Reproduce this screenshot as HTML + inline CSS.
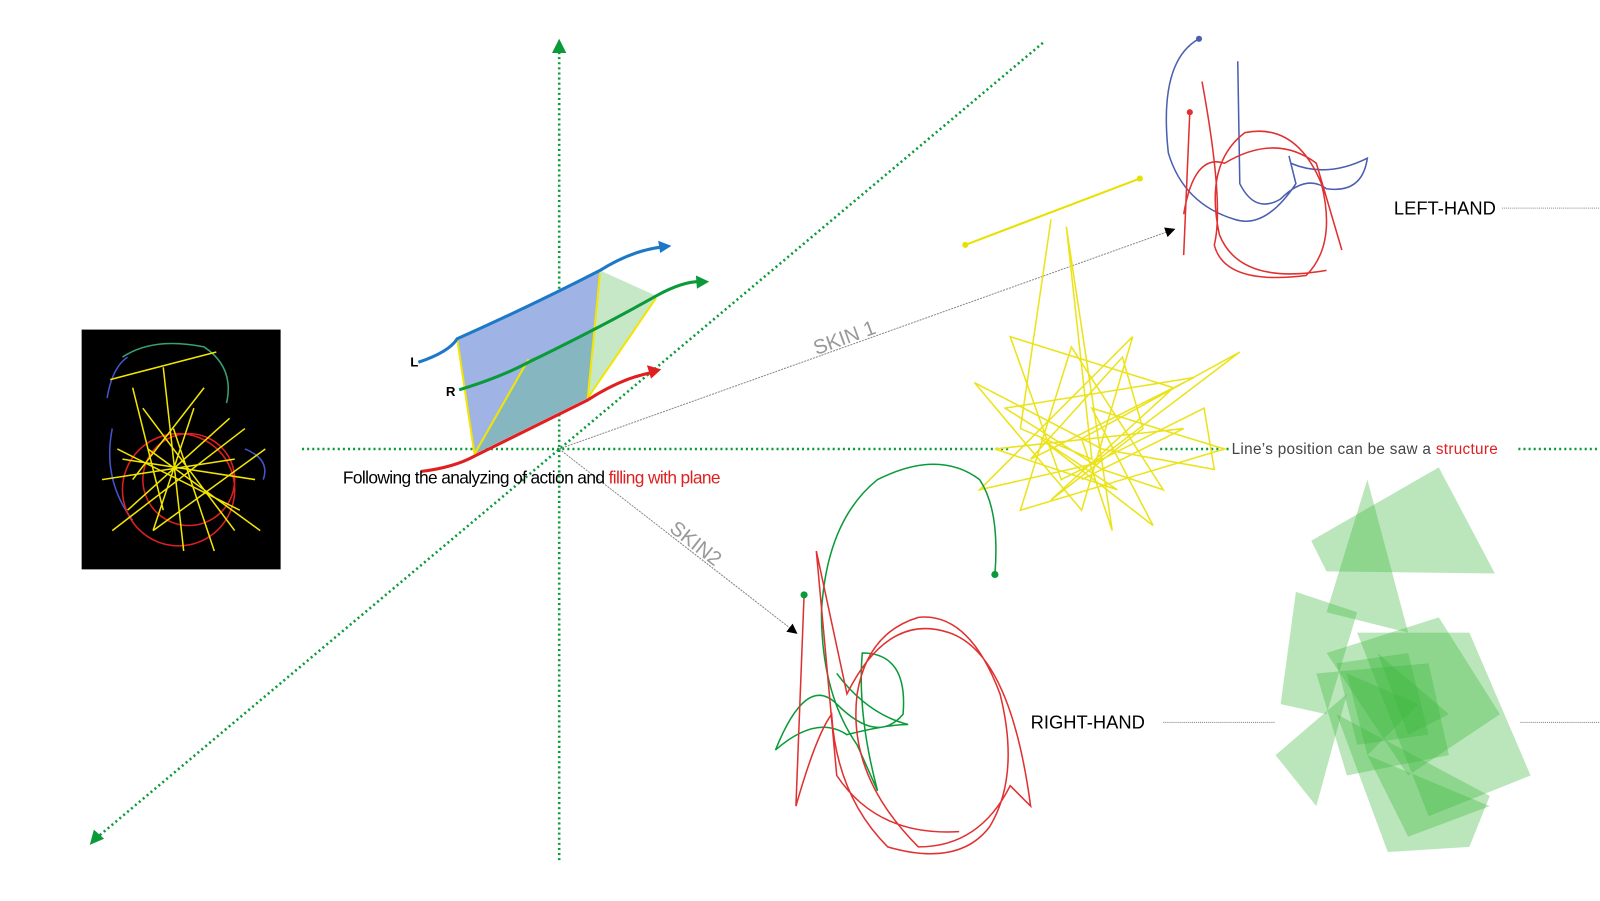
<!DOCTYPE html>
<html><head><meta charset="utf-8"><style>
html,body{margin:0;padding:0;background:#fff;}
svg{display:block;}
text{font-family:"Liberation Sans",sans-serif;}
</style></head><body>
<svg width="1600" height="901" viewBox="0 0 1568 883" preserveAspectRatio="none" xmlns="http://www.w3.org/2000/svg">
<defs>
<marker id="ka" markerWidth="10" markerHeight="10" refX="8" refY="5" orient="auto"><path d="M0,0 L10,5 L0,10 z" fill="#000"/></marker>
</defs>
<g stroke="#0a9a3a" stroke-width="2.5" stroke-dasharray="2,3" fill="none">
<line x1="548" y1="843" x2="548" y2="52"/>
<line x1="296" y1="440" x2="990" y2="440"/>
<line x1="1137" y1="440" x2="1205" y2="440"/>
<line x1="1488" y1="440" x2="1568" y2="440"/>
<line x1="1022" y1="42" x2="96" y2="820"/>
</g>
<path d="M541,52 L548,38 L555,52 z" fill="#0a9a3a"/>
<path d="M88,828 L92,813 L102,822 z" fill="#0a9a3a"/>
<line x1="548" y1="440" x2="1150" y2="225" stroke="#888" stroke-width="1" stroke-dasharray="2,1" marker-end="url(#ka)"/>
<line x1="548" y1="440" x2="780" y2="620" stroke="#888" stroke-width="1" stroke-dasharray="2,1" marker-end="url(#ka)"/>
<text x="800" y="348" fill="#999" font-size="20" transform="rotate(-20 800 348)">SKIN 1</text>
<text x="655" y="520" fill="#999" font-size="20" transform="rotate(38 655 520)">SKIN2</text>
<path d="M448,332 Q520,300 588,265 L576,390 L465,445 z" fill="#9fb4e4"/>
<path d="M518,352 Q580,330 643,290 L576,390 L465,445 z" fill="#7fb6b6" opacity="0.8"/>
<path d="M588,265 L643,290 L576,390 z" fill="#c7e8c7"/>
<g stroke="#f2e600" stroke-width="2" fill="none">
<line x1="448" y1="332" x2="465" y2="445"/><line x1="518" y1="352" x2="465" y2="445"/>
<line x1="588" y1="268" x2="576" y2="390"/><line x1="643" y1="292" x2="576" y2="390"/>
</g>
<path d="M410,355 Q440,345 448,332 Q520,300 588,265 Q620,245 650,242" stroke="#1e78c8" stroke-width="3" fill="none"/>
<path d="M645,236 L658,241 L647,248 z" fill="#1e78c8"/>
<path d="M450,382 Q490,370 518,355 Q590,320 643,290 Q670,275 688,276" stroke="#0a9a3a" stroke-width="3" fill="none"/>
<path d="M682,270 L695,276 L683,283 z" fill="#0a9a3a"/>
<path d="M413,462 Q445,458 465,447 L576,392 Q610,370 640,365" stroke="#e02020" stroke-width="3" fill="none"/>
<path d="M634,358 L648,362 L638,371 z" fill="#e02020"/>
<text x="402" y="359" font-size="13" font-weight="bold">L</text>
<text x="437" y="388" font-size="13" font-weight="bold">R</text>
<text x="336" y="474" font-size="17" letter-spacing="-0.6">Following the analyzing of action and <tspan fill="#e02020">filling with plane</tspan></text>
<rect x="80" y="323" width="195" height="235" fill="#000"/>
<g fill="none" stroke-width="1.5">
<path d="M120,350 Q150,330 200,340 Q230,360 222,395" stroke="#3aa070"/>
<path d="M105,390 Q110,360 125,350 M110,420 Q100,470 130,510" stroke="#4455cc"/>
<circle cx="175" cy="480" r="55" stroke="#e02020"/>
<circle cx="185" cy="470" r="45" stroke="#e02020"/>
<path d="M240,440 Q265,450 258,470" stroke="#4455cc"/>
<path d="M108,372 L212,345 M140,400 L230,520 M120,450 L250,470 M160,360 L180,540 M110,520 L240,420 M130,470 L200,380 M150,520 L260,440 M170,420 L210,540 M115,440 L235,500 M125,500 L225,410 M145,440 L255,520 M130,380 L160,500 M190,400 L150,520 M100,470 L230,450" stroke="#f2e600"/>
</g>
<line x1="946" y1="240" x2="1117" y2="175" stroke="#e8e000" stroke-width="2"/>
<circle cx="946" cy="240" r="3" fill="#e8e000"/><circle cx="1117" cy="175" r="3" fill="#e8e000"/>
<g stroke="#ebe31a" stroke-width="1.5" fill="none">
<path d="M1030,215 L1000,420 L1070,450 L1045,222 L1090,520 L1060,430 L1215,345 L1070,455 L960,480 L1110,330 L1060,500 L955,375 L1080,440 L1190,460 L1180,400 L1040,470 L990,330 L1150,380 L1030,490 L1120,420 L1100,350 L1010,450 L1170,370 L985,400 L1080,460 L1140,480 L1050,340 L1000,500 L1200,440 L1070,400 L1130,515 L1020,430 L1095,480 L975,440 L1160,420 L1060,470"/>
</g>
<g fill="none" stroke-width="1.5">
<path d="M1175,38 Q1135,60 1145,150 Q1160,200 1210,215 Q1240,225 1270,180 Q1260,140 1265,160 Q1300,175 1340,155 Q1335,190 1300,185 Q1280,170 1255,195 Q1230,210 1215,180 L1213,60" stroke="#4a5fb0"/>
<path d="M1166,110 L1160,250 M1178,80 Q1200,200 1190,240 Q1200,280 1280,270 Q1310,240 1295,180 Q1270,120 1220,130 Q1180,160 1195,230 Q1215,280 1300,265 M1160,210 Q1170,150 1200,160 Q1250,130 1290,160 L1315,245" stroke="#e03030"/>
</g>
<circle cx="1175" cy="38" r="3" fill="#4a5fb0"/><circle cx="1166" cy="110" r="3" fill="#e03030"/>
<text x="1366" y="210" font-size="18">LEFT-HAND</text>
<line x1="1472" y1="204" x2="1568" y2="204" stroke="#888" stroke-width="1" stroke-dasharray="1,1"/>
<g fill="none" stroke-width="1.5">
<path d="M975,563 Q980,500 960,470 Q920,440 860,470 Q810,510 805,600 Q805,680 840,730 L860,775 Q840,700 845,640 Q890,640 885,700 Q860,730 820,690 Q790,660 760,735 Q800,700 830,720 Q870,710 890,710 Q850,700 820,660" stroke="#0a9a3a"/>
<path d="M788,583 L780,790 Q800,720 815,700 Q820,780 870,830 Q940,850 970,810 Q1000,760 980,680 Q950,600 900,605 Q850,620 840,680 Q830,760 900,830 Q960,830 990,770 L1010,790 Q990,640 930,620 Q870,600 830,680 L800,540 L820,760 Q860,820 940,815" stroke="#e03030"/>
</g>
<circle cx="788" cy="583" r="3.5" fill="#0a9a3a"/><circle cx="975" cy="563" r="3.5" fill="#0a9a3a"/>
<text x="1010" y="714" font-size="18">RIGHT-HAND</text>
<line x1="1140" y1="708" x2="1250" y2="708" stroke="#888" stroke-width="1" stroke-dasharray="1,1"/>
<line x1="1490" y1="708" x2="1568" y2="708" stroke="#888" stroke-width="1" stroke-dasharray="1,1"/>
<g fill="#3db83d" fill-opacity="0.35">
<polygon points="1285,530 1410,458 1465,562 1300,560"/>
<polygon points="1340,470 1300,600 1380,620"/>
<polygon points="1270,580 1330,600 1300,700 1255,690"/>
<polygon points="1300,640 1410,605 1470,700 1380,760"/>
<polygon points="1250,740 1320,680 1290,790"/>
<polygon points="1330,620 1440,620 1500,760 1400,800"/>
<polygon points="1310,700 1460,780 1440,830 1360,835"/>
<polygon points="1290,660 1400,650 1420,740 1320,760"/>
<polygon points="1350,640 1420,700 1380,720"/>
<polygon points="1320,660 1390,690 1340,740"/>
<polygon points="1340,740 1460,790 1380,820"/>
<polygon points="1310,650 1380,640 1400,720 1330,730"/>
</g>
<text x="1207" y="445" font-size="15" fill="#444" letter-spacing="0.3">Line’s  position can be saw a <tspan fill="#e02020">structure</tspan></text>
</svg>
</body></html>
